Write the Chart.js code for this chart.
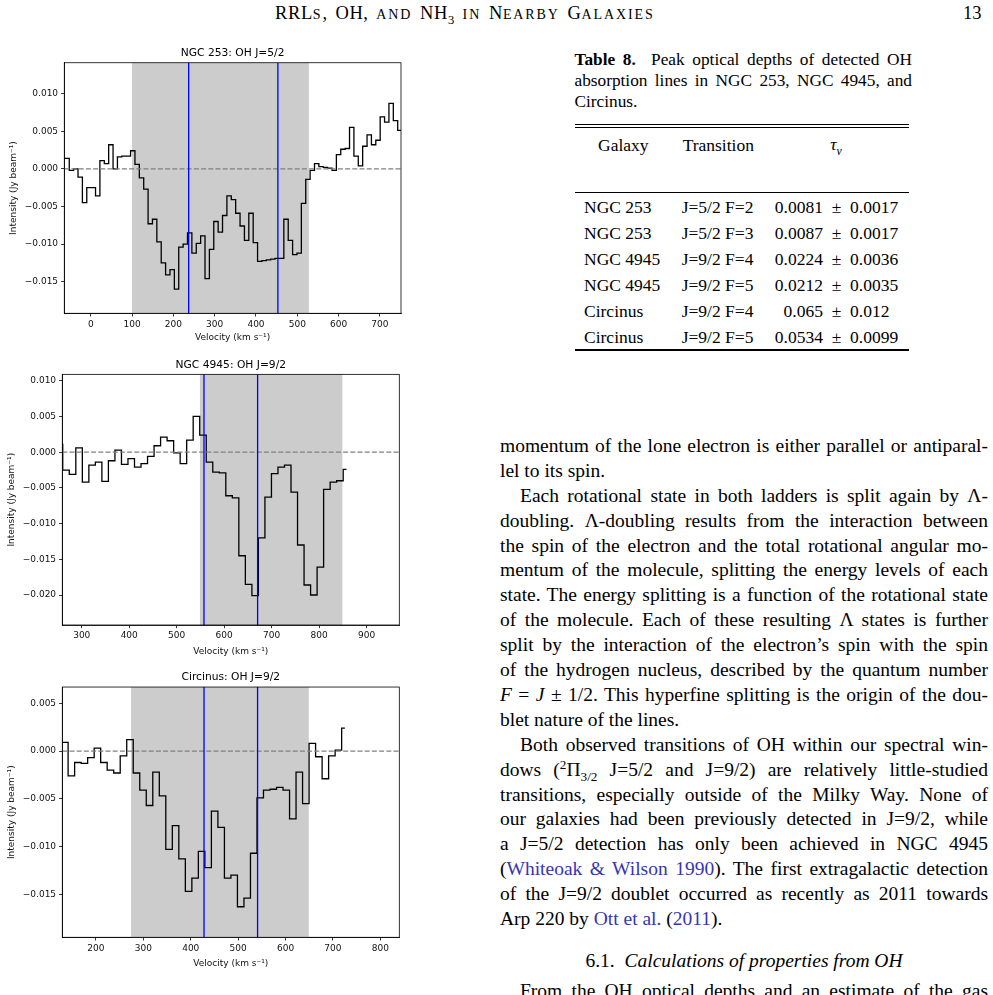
<!DOCTYPE html>
<html>
<head>
<meta charset="utf-8">
<script src="https://cdn.jsdelivr.net/npm/chart.js@4.4.1/dist/chart.umd.min.js"></script>
<style>
  html, body { margin: 0; padding: 0; background: #fff; }
  body { width: 993px; height: 995px; position: relative; overflow: hidden;
         font-family: "Liberation Serif", "Times New Roman", serif; color: #000; }
  canvas { position: absolute; left: 0; }
  .t { position: absolute; white-space: nowrap; line-height: 1; }
  .big { font-size: 18.5px; }
  .hdr .big { letter-spacing: 0.6px; word-spacing: 2.5px; }
  .sc { font-size: 14px; letter-spacing: 1.9px; }
  sup, sub { line-height: 0; font-size: 68%; }
  a { color: #3636ae; text-decoration: none; }
  #caption { position: absolute; left: 574.5px; top: 50.4px; width: 337.5px; font-size: 17.3px; line-height: 20.8px; }
  #col { position: absolute; left: 500px; top: 433.9px; width: 488px; font-size: 19.5px; line-height: 24.9px; }
  .j { text-align: justify; text-align-last: justify; }
  .l { text-align: left; }
  .ind { text-indent: 20px; }
  .rule { position: absolute; left: 574.5px; width: 334px; background: #000; }
  .cell { position: absolute; white-space: nowrap; font-size: 17.5px; line-height: 1; }
</style>
</head>
<body>

<div class="t hdr" style="left:275px; top:3.5px;">
  <span class="big">RRL</span><span class="sc">S</span><span class="big">, OH, </span><span class="sc">AND</span><span class="big"> NH<sub>3</sub> </span><span class="sc">IN</span><span class="big"> N</span><span class="sc">EARBY</span><span class="big"> G</span><span class="sc">ALAXIES</span>
</div>
<div class="t big" style="left:963px; top:3.5px;">13</div>

<canvas id="c253" width="410" height="315" style="top:40px"></canvas>
<canvas id="c4945" width="410" height="315" style="top:354px"></canvas>
<canvas id="cCirc" width="410" height="315" style="top:666px"></canvas>

<div id="caption">
  <div class="j"><b>Table 8.</b>&nbsp; Peak optical depths of detected OH</div>
  <div class="j">absorption lines in NGC 253, NGC 4945, and</div>
  <div class="l">Circinus.</div>
</div>

<div class="rule" style="top:123.8px; height:1.3px"></div>
<div class="rule" style="top:126.7px; height:1.3px"></div>
<div class="rule" style="top:192.3px; height:1.2px"></div>
<div class="rule" style="top:348.6px; height:2px"></div>
<div id="table"></div>

<div id="col">
  <div class="j">momentum of the lone electron is either parallel or antiparal-</div>
  <div class="l">lel to its spin.</div>
  <div class="j ind">Each rotational state in both ladders is split again by Λ-</div>
  <div class="j">doubling. Λ-doubling results from the interaction between</div>
  <div class="j">the spin of the electron and the total rotational angular mo-</div>
  <div class="j">mentum of the molecule, splitting the energy levels of each</div>
  <div class="j">state. The energy splitting is a function of the rotational state</div>
  <div class="j">of the molecule. Each of these resulting Λ states is further</div>
  <div class="j">split by the interaction of the electron’s spin with the spin</div>
  <div class="j">of the hydrogen nucleus, described by the quantum number</div>
  <div class="j"><i>F</i> = <i>J</i> ± 1/2. This hyperfine splitting is the origin of the dou-</div>
  <div class="l">blet nature of the lines.</div>
  <div class="j ind">Both observed transitions of OH within our spectral win-</div>
  <div class="j">dows (<sup>2</sup>Π<sub>3/2</sub> J=5/2 and J=9/2) are relatively little-studied</div>
  <div class="j">transitions, especially outside of the Milky Way. None of</div>
  <div class="j">our galaxies had been previously detected in J=9/2, while</div>
  <div class="j">a J=5/2 detection has only been achieved in NGC 4945</div>
  <div class="j">(<a>Whiteoak &amp; Wilson 1990</a>). The first extragalactic detection</div>
  <div class="j">of the J=9/2 doublet occurred as recently as 2011 towards</div>
  <div class="l">Arp 220 by <a>Ott et al.</a> (<a>2011</a>).</div>
</div>
<div class="t" style="left:500px; width:488px; text-align:center; top:950.5px; font-size:19.5px;">6.1.&nbsp; <i>Calculations of properties from OH</i></div>
<div class="j ind" style="position:absolute; left:500px; width:488px; top:979px; font-size:19.5px; line-height:24.9px;">From the OH optical depths and an estimate of the gas</div>

<script>
// NGC 253, OH J=5/2 spectrum (channel velocity, intensity)
const vel253 = [-67.9, -57.3, -46.7, -36.1, -25.5, -14.9, -4.3, 6.3, 16.9, 27.5,
  38.1, 48.7, 59.3, 69.9, 80.5, 91.1, 101.7, 112.3, 122.9, 133.5,
  144.1, 154.7, 165.3, 175.9, 186.5, 197.1, 207.7, 218.3, 228.9, 239.5,
  250.1, 260.7, 271.3, 281.9, 292.5, 303.1, 313.7, 324.3, 334.9, 345.5,
  356.1, 366.7, 377.3, 387.9, 398.5, 409.1, 419.7, 430.3, 440.9, 451.5,
  462.1, 472.7, 483.3, 493.9, 504.5, 515.1, 525.7, 536.3, 546.9, 557.5,
  568.1, 578.7, 589.3, 599.9, 610.5, 621.1, 631.7, 642.3, 652.9, 663.5,
  674.1, 684.7, 695.3, 705.9, 716.5, 727.1, 737.7, 748.3, 758.9];
const int253 = [0.0014, 0.0014, -0.0002, 0.0000, -0.0011, -0.0045, -0.0025, -0.0025, -0.0036, 0.0011,
  0.0007, 0.0032, 0.0000, 0.0016, 0.0017, 0.0017, 0.0024, 0.0006, -0.0012, -0.0027,
  -0.0073, -0.0067, -0.0097, -0.0125, -0.0141, -0.0134, -0.0160, -0.0104, -0.0100, -0.0085,
  -0.0112, -0.0099, -0.0089, -0.0146, -0.0107, -0.0070, -0.0084, -0.0062, -0.0036, -0.0041,
  -0.0059, -0.0076, -0.0095, -0.0059, -0.0098, -0.0123, -0.0122, -0.0121, -0.0120, -0.0119,
  -0.0119, -0.0067, -0.0095, -0.0114, -0.0112, -0.0046, -0.0014, -0.0002, 0.0007, 0.0003,
  0.0002, 0.0001, -0.0002, 0.0019, 0.0026, 0.0027, 0.0055, 0.0017, 0.0004, 0.0030,
  0.0045, 0.0032, 0.0038, 0.0069, 0.0062, 0.0087, 0.0064, 0.0051, 0.0051];

// NGC 4945, OH J=9/2
const vel4945 = [253.1, 266.8, 280.6, 294.3, 308.1, 321.8, 335.5, 349.3, 363.0, 376.8,
  390.5, 404.2, 418.0, 431.7, 445.5, 459.2, 472.9, 486.7, 500.4, 514.2,
  527.9, 541.6, 555.4, 569.1, 582.9, 596.6, 610.3, 624.1, 637.8, 651.6,
  665.3, 679.0, 692.8, 706.5, 720.3, 734.0, 747.7, 761.5, 775.2, 789.0,
  802.7, 816.4, 830.2, 843.9, 857.7];
const int4945 = [0.0011, -0.0025, -0.0031, 0.0006, -0.0042, -0.0018, -0.0014, -0.0041, -0.0012, 0.0003,
  -0.0017, -0.0009, -0.0021, -0.0016, -0.0006, 0.0009, 0.0021, 0.0016, -0.0001, -0.0016,
  0.0017, 0.0050, 0.0024, -0.0014, -0.0028, -0.0029, -0.0061, -0.0064, -0.0145, -0.0185,
  -0.0201, -0.0120, -0.0063, -0.0030, -0.0021, -0.0018, -0.0056, -0.0130, -0.0186, -0.0200,
  -0.0161, -0.0052, -0.0042, -0.0040, -0.0024];

// Circinus, OH J=9/2
const velCirc = [120.7, 134.4, 148.1, 161.9, 175.6, 189.4, 203.1, 216.8, 230.6, 244.3,
  258.1, 271.8, 285.5, 299.3, 313.0, 326.8, 340.5, 354.2, 368.0, 381.7,
  395.5, 409.2, 422.9, 436.7, 450.4, 464.2, 477.9, 491.6, 505.4, 519.1,
  532.9, 546.6, 560.3, 574.1, 587.8, 601.6, 615.3, 629.0, 642.8, 656.5,
  670.3, 684.0, 697.7, 711.5, 725.2];
const intCirc = [0.0009, 0.0009, -0.0026, -0.0012, -0.0013, -0.0007, 0.0003, -0.0012, -0.0020, -0.0023,
  -0.0005, 0.0012, -0.0023, -0.0041, -0.0057, -0.0022, -0.0047, -0.0103, -0.0078, -0.0113,
  -0.0147, -0.0133, -0.0105, -0.0122, -0.0063, -0.0080, -0.0133, -0.0130, -0.0163, -0.0154,
  -0.0107, -0.0049, -0.0041, -0.0040, -0.0038, -0.0041, -0.0071, -0.0022, -0.0055, 0.0008,
  -0.0006, -0.0029, -0.0005, 0.0001, 0.0024];

// tick labels
const xTicks253 = [0, 100, 200, 300, 400, 500, 600, 700];
const yTicks253 = [-0.015, -0.010, -0.005, 0.000, 0.005, 0.010];
const xTicks4945 = [300, 400, 500, 600, 700, 800, 900];
const yTicks4945 = [-0.020, -0.015, -0.010, -0.005, 0.000, 0.005, 0.010];
const xTicksCirc = [200, 300, 400, 500, 600, 700, 800];
const yTicksCirc = [-0.015, -0.010, -0.005, 0.000, 0.005];

// fitting windows (gray) and line velocities (blue)
const window253 = [100, 528];
const lines253 = [237, 453];
const window4945 = [549, 849];
const lines4945 = [557.5, 670.5];
const windowCirc = [274, 649];
const linesCirc = [428, 541];

// table 8
const tblGalaxy = ['NGC 253', 'NGC 253', 'NGC 4945', 'NGC 4945', 'Circinus', 'Circinus'];
const tblTransition = ['J=5/2 F=2', 'J=5/2 F=3', 'J=9/2 F=4', 'J=9/2 F=5', 'J=9/2 F=4', 'J=9/2 F=5'];
const tblTau = ['0.0081 ± 0.0017', '0.0087 ± 0.0017', '0.0224 ± 0.0036', '0.0212 ± 0.0035', '0.065 ± 0.012', '0.0534 ± 0.0099'];

Chart.defaults.font.family = 'DejaVu Sans';

// shaded window, zero line, line markers and the axes frame
const spectrumDecor = {
  id: 'spectrumDecor',
  beforeDatasetsDraw(chart, args, o) {
    const {ctx, chartArea: a, scales: {x}} = chart;
    const x1 = x.getPixelForValue(o.window[0]);
    const x2 = x.getPixelForValue(o.window[1]);
    ctx.save();
    ctx.fillStyle = '#cccccc';
    ctx.fillRect(x1, a.top, x2 - x1, a.bottom - a.top);
    ctx.restore();
  },
  afterDatasetsDraw(chart, args, o) {
    const {ctx, chartArea: a, scales: {x, y}} = chart;
    ctx.save();
    ctx.beginPath();
    ctx.rect(a.left, a.top, a.right - a.left, a.bottom - a.top);
    ctx.clip();
    const y0 = y.getPixelForValue(0);
    ctx.strokeStyle = '#808080';
    ctx.lineWidth = 1.3;
    ctx.setLineDash([5, 2.2]);
    ctx.beginPath();
    ctx.moveTo(a.left, y0);
    ctx.lineTo(a.right, y0);
    ctx.stroke();
    ctx.setLineDash([]);
    ctx.strokeStyle = '#0000ff';
    o.lines.forEach(v => {
      const px = x.getPixelForValue(v);
      ctx.beginPath();
      ctx.moveTo(px, a.top);
      ctx.lineTo(px, a.bottom);
      ctx.stroke();
    });
    ctx.restore();
  },
  afterDraw(chart) {
    const {ctx, chartArea: a} = chart;
    ctx.save();
    ctx.strokeStyle = '#000';
    ctx.lineWidth = 0.8;
    ctx.strokeRect(a.left, a.top, a.right - a.left, a.bottom - a.top);
    ctx.restore();
  }
};

function fmtY(v) {
  return (v < -1e-9 ? '\u2212' : '') + Math.abs(v).toFixed(3);
}

function makeSpectrum(id, vel, inten, title, xr, yr, xTicks, yTicks, win, lines, p) {
  const tickFont = {size: 9};
  return new Chart(document.getElementById(id), {
    type: 'line',
    data: {
      datasets: [{
        data: vel.map((v, i) => ({x: v, y: inten[i]})),
        stepped: 'middle',
        borderColor: '#000',
        borderWidth: 1.3,
        pointRadius: 0,
        fill: false
      }]
    },
    options: {
      responsive: false,
      animation: false,
      events: [],
      layout: {padding: {left: 0, right: p.right, top: 0, bottom: 0}},
      plugins: {
        legend: {display: false},
        tooltip: {enabled: false},
        title: {
          display: true, text: title, color: '#000', fullSize: false,
          font: {size: 10.7, weight: 'normal'},
          padding: {top: p.titleTop, bottom: p.titleBottom}
        },
        spectrumDecor: {window: win, lines: lines}
      },
      scales: {
        x: {
          type: 'linear', min: xr[0], max: xr[1],
          afterBuildTicks: s => { s.ticks = xTicks.map(v => ({value: v})); },
          afterFit: s => { s.height = p.xHeight; },
          ticks: {color: '#111', font: tickFont, padding: 2.5, maxRotation: 0, callback: v => String(v)},
          grid: {drawOnChartArea: false, drawTicks: true, tickLength: 3.2, tickColor: '#000', tickWidth: 0.8},
          border: {display: true, color: '#000', width: 0.8},
          title: {display: true, text: 'Velocity (km s\u207B\u00B9)', color: '#111', font: {size: 9},
                  padding: {top: 0, bottom: p.xTitlePad}}
        },
        y: {
          type: 'linear', min: yr[0], max: yr[1],
          afterBuildTicks: s => { s.ticks = yTicks.map(v => ({value: v})); },
          afterFit: s => { s.width = p.yWidth; },
          ticks: {color: '#111', font: tickFont, padding: 3, callback: v => fmtY(v)},
          grid: {drawOnChartArea: false, drawTicks: true, tickLength: 3.2, tickColor: '#000', tickWidth: 0.8},
          border: {display: true, color: '#000', width: 0.8},
          title: {display: true, text: 'Intensity (Jy beam\u207B\u00B9)', color: '#111', font: {size: 9},
                  padding: {top: p.yTitlePad, bottom: 0}}
        }
      }
    },
    plugins: [spectrumDecor]
  });
}

makeSpectrum('c253', vel253, int253, 'NGC 253: OH J=5/2', [-64, 751], [-0.0192, 0.0141],
  xTicks253, yTicks253, window253, lines253,
  {right: 9, titleTop: 6.6, titleBottom: 3.3, xHeight: 41.7, yWidth: 64.3, xTitlePad: 11.6, yTitlePad: 7.9});
makeSpectrum('c4945', vel4945, int4945, 'NGC 4945: OH J=9/2', [259, 969], [-0.0242, 0.0109],
  xTicks4945, yTicks4945, window4945, lines4945,
  {right: 10.7, titleTop: 5.1, titleBottom: 2.4, xHeight: 44, yWidth: 62.3, xTitlePad: 12.1, yTitlePad: 6.3});
makeSpectrum('cCirc', velCirc, intCirc, 'Circinus: OH J=9/2', [129, 840], [-0.0195, 0.0067],
  xTicksCirc, yTicksCirc, windowCirc, linesCirc,
  {right: 10.7, titleTop: 5.1, titleBottom: 3.1, xHeight: 43.7, yWidth: 62.3, xTitlePad: 11.6, yTitlePad: 6.3});

// table body
const tbl = document.getElementById('table');
function cell(text, left, baseline, center) {
  const d = document.createElement('div');
  d.className = 'cell';
  d.innerHTML = text;
  d.style.left = left + 'px';
  d.style.top = (baseline - 14.66) + 'px';
  if (center) d.style.transform = 'translateX(-50%)';
  tbl.appendChild(d);
}
cell('Galaxy', 623.3, 151.7, true);
cell('Transition', 718.3, 151.7, true);
cell('<i>τ<sub>ν</sub></i>', 836, 150.5, true);
tblGalaxy.forEach((g, i) => {
  const b = 213.3 + 26 * i;
  cell(g, 584, b, false);
  cell(tblTransition[i], 681.7, b, false);
  cell(tblTau[i].replace(/ /g, '\u2002'), 836.5, b, true);
});
</script>
</body>
</html>
